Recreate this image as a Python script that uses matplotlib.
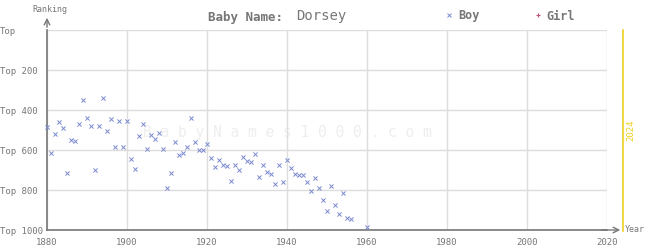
import numpy as np
import matplotlib
matplotlib.use("Agg")
import matplotlib.pyplot as plt

years = list(range(1880, 1957)) + [1960]
boy_rank = [487, 617, 520, 462, 492, 717, 552, 557, 472, 350,
            442, 480, 702, 480, 340, 507, 447, 587, 457, 587,
            457, 647, 697, 530, 472, 597, 527, 547, 517, 597,
            792, 717, 562, 627, 617, 587, 442, 562, 602, 602,
            572, 642, 687, 652, 677, 682, 757, 677, 702, 637,
            657, 662, 622, 737, 677, 712, 722, 772, 677, 762,
            652, 692, 722, 727, 727, 762, 807, 742, 792, 852,
            907, 782, 877, 922, 817, 942, 947, 987]
x_ticks = [1880, 1900, 1920, 1940, 1960, 1980, 2000, 2020]
y_ticks = [0, 200, 400, 600, 800, 1000]
y_labels = ["Top", "Top 200", "Top 400", "Top 600", "Top 800", "Top 1000"]
mark_year = 2024

font = "DejaVu Sans Mono"
grey = "#777777"
plt.rcParams['font.family'] = font

fig = plt.figure(figsize=(6.45, 2.5), dpi=100)
ax = fig.add_axes([47/645, 20/250, 560/645, 200/250])
ax.set_xlim(1880, 2020)
ax.set_ylim(1000, 0)
ax.set_xticks(x_ticks)
ax.set_yticks(y_ticks, labels=y_labels)
ax.grid(True, color="#dddddd", lw=1)
ax.set_axisbelow(True)
for s in ["top", "right"]:
    ax.spines[s].set_visible(False)
ax.spines["left"].set_color(grey)
ax.spines["bottom"].set_color(grey)
ax.spines["left"].set_linewidth(1.2)
ax.spines["bottom"].set_linewidth(1.2)
ax.tick_params(axis="both", length=0, labelsize=6.5, labelcolor=grey)
ax.tick_params(axis="x", pad=6)
ax.tick_params(axis="y", pad=33.8)
for t in ax.get_yticklabels():
    t.set_horizontalalignment("left")

# watermark
ax.text(1940, 510, "B a b y N a m e s 1 0 0 0 . c o m", ha="center", va="center",
        fontsize=10.5, color="#eeeeee", zorder=0)

ax.scatter(years, boy_rank, marker="x", s=9, lw=0.7, color="#7b8ad0", zorder=3, clip_on=False)

# yellow current-year line
ax.plot([mark_year, mark_year], [0, 1005], color="#f0d020", lw=1.2, clip_on=False)
ax.text(mark_year + 2, 500, str(mark_year), rotation=90, color="#f0d020",
        fontsize=6.5, ha="center", va="center")

# axis arrows
ax.annotate("", xy=(2024, 1000), xytext=(2018, 1000), xycoords="data",
            arrowprops=dict(arrowstyle="->", color=grey, lw=1), annotation_clip=False)
ax.annotate("", xy=(1880, -75), xytext=(1880, 0),
            arrowprops=dict(arrowstyle="->", color=grey, lw=1), annotation_clip=False)
fig.text(625/645, 1 - 229/250, "Year", fontsize=6, color=grey, va="center", ha="left")
fig.text(50/645, 1 - 9/250, "Ranking", fontsize=6, color=grey, va="center", ha="center")

# title and legend
fig.text(283/645, 1 - 17/250, "Baby Name:", fontsize=9, color=grey, weight="bold", ha="right", va="center")
fig.text(296/645, 1 - 16/250, "Dorsey", fontsize=10, color=grey, ha="left", va="center")
fig.text(458/645, 1 - 16/250, "Boy", fontsize=8.5, color=grey, weight="bold", ha="left", va="center")
fig.text(546/645, 1 - 16/250, "Girl", fontsize=8.5, color=grey, weight="bold", ha="left", va="center")
fig.lines.append(plt.Line2D([449/645], [1 - 15/250], marker="x", ms=2.5, mew=0.7,
                            color="#7b8ad0", transform=fig.transFigure))
fig.lines.append(plt.Line2D([538/645], [1 - 15/250], marker="+", ms=3, mew=0.8,
                            color="#c05070", transform=fig.transFigure))

plt.savefig("out.png", dpi=100)
